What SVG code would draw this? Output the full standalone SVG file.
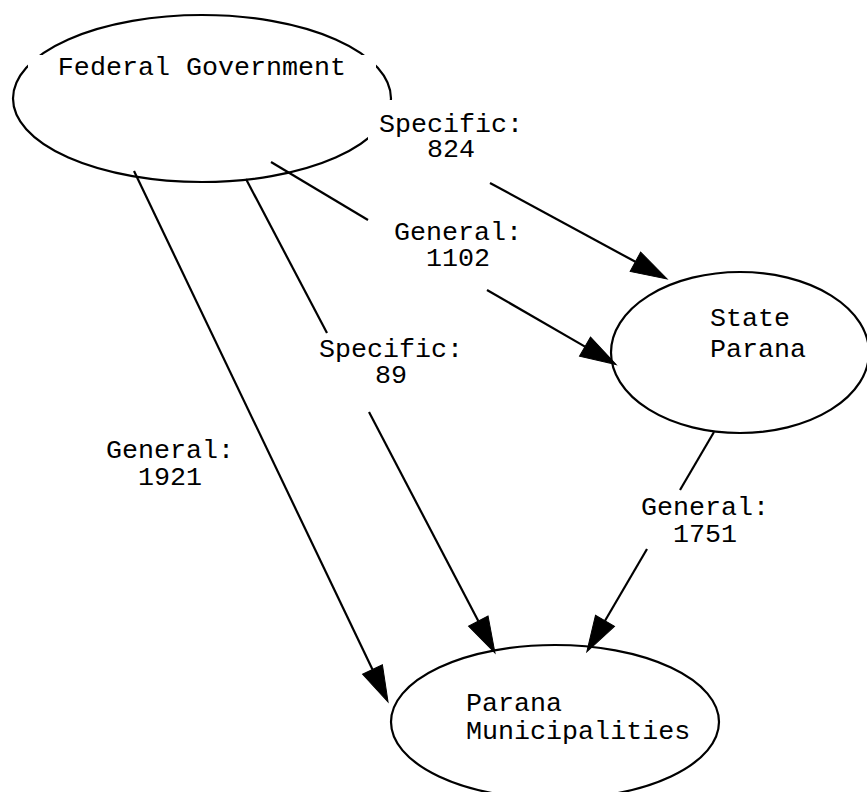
<svg xmlns="http://www.w3.org/2000/svg" width="867" height="792" viewBox="0 0 867 792">
  <style>
    .shape { fill: none; stroke: #000; stroke-width: 2.2; }
    .edge { fill: none; stroke: #000; stroke-width: 2.2; }
    .lbl { font-family: "Liberation Mono", "DejaVu Sans Mono", monospace; font-size: 26.7px; fill: #000; }
    .mid { text-anchor: middle; }
    .bg { fill: #fff; stroke: none; }
  </style>
  <defs>
    <marker id="head" markerUnits="userSpaceOnUse" markerWidth="40" markerHeight="26" refX="0" refY="13" orient="auto" overflow="visible">
      <path d="M0,2 L36,13 L0,24 Z" fill="#000" stroke="#000" stroke-width="1"/>
    </marker>
  </defs>
  <rect width="867" height="792" fill="#fff"/>

  <g id="nodes">
    <g id="federal">
      <ellipse class="shape" cx="202" cy="98.5" rx="189" ry="83.5"/>
      <rect class="bg" x="28" y="55" width="348" height="30"/>
      <text class="lbl mid" x="202" y="75">Federal Government</text>
    </g>
    <g id="state">
      <ellipse class="shape" cx="740" cy="352.5" rx="129" ry="80.5"/>
      <text class="lbl" x="710" y="326">State<tspan x="710" dy="31">Parana</tspan></text>
    </g>
    <g id="municipalities">
      <ellipse class="shape" cx="555" cy="722" rx="164" ry="77"/>
      <text class="lbl" x="466" y="711">Parana<tspan x="466" dy="28">Municipalities</tspan></text>
    </g>
  </g>

  <g id="connectors">
    <!-- Federal -> Municipalities, General 1921 -->
    <g id="e-fed-mun-general">
      <line class="edge" x1="134" y1="171" x2="372.5" y2="669.5" marker-end="url(#head)"/>
      <text class="lbl mid" x="170" y="458">General:<tspan x="170" dy="27">1921</tspan></text>
    </g>
    <!-- Federal -> Municipalities, Specific 89 -->
    <g id="e-fed-mun-specific">
      <line class="edge" x1="246" y1="179" x2="327" y2="333"/>
      <line class="edge" x1="369" y1="412" x2="478.3" y2="621.1" marker-end="url(#head)"/>
      <text class="lbl mid" x="391" y="357">Specific:<tspan x="391" dy="26">89</tspan></text>
    </g>
    <!-- Federal -> State, General 1102 -->
    <g id="e-fed-state-general">
      <line class="edge" x1="271" y1="162" x2="368" y2="220"/>
      <line class="edge" x1="487" y1="290" x2="585" y2="346.6" marker-end="url(#head)"/>
      <text class="lbl mid" x="458" y="240">General:<tspan x="458" dy="26">1102</tspan></text>
    </g>
    <!-- Federal -> State, Specific 824 -->
    <g id="e-fed-state-specific">
      <rect class="bg" x="368" y="100" width="166" height="83"/>
      <line class="edge" x1="490" y1="183" x2="635.4" y2="261.8" marker-end="url(#head)"/>
      <text class="lbl mid" x="451" y="132">Specific:<tspan x="451" dy="25">824</tspan></text>
    </g>
    <!-- State -> Municipalities, General 1751 -->
    <g id="e-state-mun-general">
      <line class="edge" x1="714" y1="432" x2="680" y2="490"/>
      <line class="edge" x1="647" y1="549" x2="605" y2="620.8" marker-end="url(#head)"/>
      <text class="lbl mid" x="705" y="515">General:<tspan x="705" dy="27">1751</tspan></text>
    </g>
  </g>
</svg>
